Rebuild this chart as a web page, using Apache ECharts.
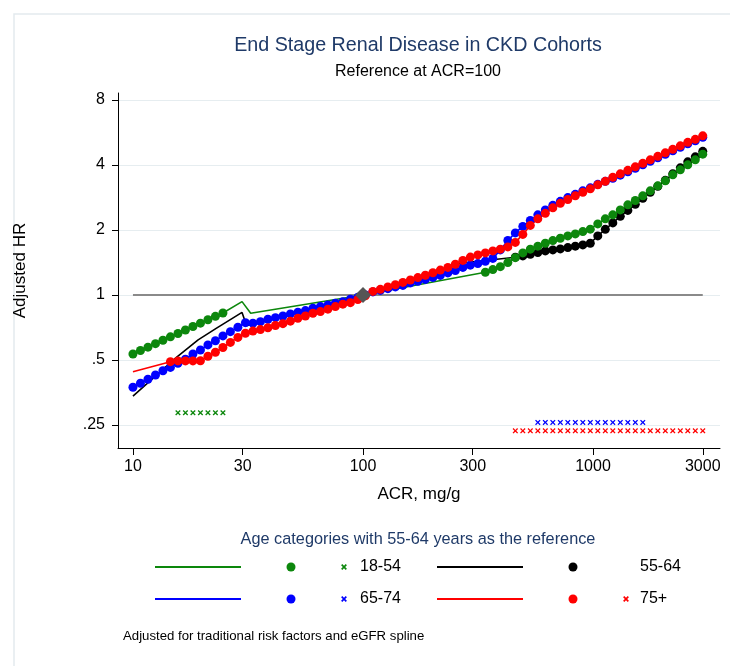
<!DOCTYPE html>
<html>
<head>
<meta charset="utf-8">
<title>End Stage Renal Disease in CKD Cohorts</title>
<script src="https://cdn.jsdelivr.net/npm/echarts@6/dist/echarts.min.js"></script>
<style>
  html, body { margin: 0; padding: 0; background: #ffffff; }
  #chart { width: 730px; height: 666px; }
</style>
</head>
<body>
<div id="chart"></div>
<script>
// ACR evaluation points (mg/g), log-spaced from 10 to 3000
const acrGrid = [
  10.00, 10.78, 11.62, 12.53, 13.50, 14.55, 15.69, 16.91, 18.23, 19.65,
  21.18, 22.83, 24.61, 26.52, 28.59, 30.83, 33.23, 35.82, 38.61, 41.62,
  44.86, 48.36, 52.13, 56.19, 60.57, 65.29, 70.38, 75.86, 81.77, 88.15,
  95.02, 102.4, 110.4, 119.0, 128.3, 138.3, 149.1, 160.7, 173.2, 186.7,
  201.3, 216.9, 233.9, 252.1, 271.8, 292.9, 315.7, 340.4, 366.9, 395.5,
  426.3, 459.5, 495.3, 533.9, 575.6, 620.4, 668.8, 720.9, 777.1, 837.7,
  903.0, 973.2, 1049, 1131, 1219, 1314, 1417, 1527, 1646, 1774,
  1913, 2062, 2222, 2396, 2582, 2784, 3000
];

// Adjusted HR by age group at each grid point (null = no marker shown)
const hr1854 = [
  0.533, 0.553, 0.573, 0.595, 0.617, 0.640, 0.663, 0.688, 0.714, 0.740,
  0.768, 0.796, 0.825, null, null, null, null, null, null, null,
  null, null, null, null, null, null, null, null, null, null,
  null, null, null, null, null, null, null, null, null, null,
  null, null, null, null, null, null, null, 1.274, 1.310, 1.352,
  1.411, 1.488, 1.565, 1.628, 1.681, 1.735, 1.784, 1.830, 1.876, 1.916,
  1.964, 2.015, 2.132, 2.249, 2.347, 2.475, 2.611, 2.734, 2.874, 3.031,
  3.197, 3.373, 3.595, 3.792, 4.000, 4.219, 4.483
];
const hr5564 = [
  null, null, null, null, null, null, null, null, null, null,
  null, null, null, null, null, null, null, null, null, null,
  null, null, null, null, null, null, null, null, null, null,
  null, null, null, null, null, null, null, null, null, null,
  null, null, null, null, null, null, null, null, null, null,
  null, 1.495, 1.516, 1.543, 1.570, 1.599, 1.616, 1.633, 1.656, 1.681,
  1.704, 1.735, 1.876, 2.011, 2.155, 2.310, 2.462, 2.625, 2.799, 2.983,
  3.180, 3.391, 3.635, 3.874, 4.130, 4.356, 4.620
];
const hr6574 = [
  0.374, 0.390, 0.407, 0.426, 0.446, 0.462, 0.483, 0.504, 0.533, 0.556,
  0.587, 0.614, 0.646, 0.676, 0.709, 0.744, 0.740, 0.752, 0.772, 0.785,
  0.799, 0.817, 0.832, 0.846, 0.868, 0.883, 0.899, 0.915, 0.931, 0.955,
  0.976, 1.000, 1.033, 1.049, 1.069, 1.089, 1.107, 1.137, 1.157, 1.180,
  1.205, 1.231, 1.264, 1.296, 1.341, 1.373, 1.396, 1.432, 1.476, 1.616,
  1.788, 1.937, 2.076, 2.213, 2.347, 2.475, 2.597, 2.711, 2.822, 2.920,
  3.031, 3.130, 3.249, 3.355, 3.463, 3.584, 3.712, 3.853, 4.000, 4.152,
  4.310, 4.474, 4.644, 4.821, 5.004, 5.167, 5.363
];
const hr75 = [
  null, null, null, null, null, 0.491, 0.495, 0.495, 0.495, 0.496,
  0.520, 0.543, 0.571, 0.603, 0.636, 0.665, 0.680, 0.691, 0.705, 0.722,
  0.736, 0.756, 0.780, 0.799, 0.823, 0.837, 0.859, 0.883, 0.906, 0.921,
  0.953, 0.990, 1.038, 1.061, 1.089, 1.115, 1.143, 1.173, 1.203, 1.234,
  1.267, 1.303, 1.341, 1.387, 1.445, 1.497, 1.532, 1.565, 1.599, 1.628,
  1.668, 1.750, 1.906, 2.098, 2.249, 2.385, 2.529, 2.653, 2.763, 2.874,
  2.983, 3.097, 3.232, 3.355, 3.501, 3.635, 3.772, 3.915, 4.065, 4.219,
  4.379, 4.546, 4.719, 4.898, 5.084, 5.250, 5.449
];

// Extra curve vertices [ACR, HR] where the spline is drawn without markers
const path1854 = [[29.8, 0.931], [32.5, 0.823], [100, 1.0]];
const path5564 = [[10, 0.340], [15.5, 0.515], [19.2, 0.619], [23.0, 0.700], [29.8, 0.830], [31.2, 0.720], [100, 1.0], [264, 1.402]];
const path6574 = [];
const path75 = [[10, 0.441]];

// Grid points where the group differs from the 55-64 reference, and the row height of that strip
const diff1854 = [6, 7, 8, 9, 10, 11, 12];
const diff6574 = [54, 55, 56, 57, 58, 59, 60, 61, 62, 63, 64, 65, 66, 67, 68];
const diff75 = [51, 52, 53, 54, 55, 56, 57, 58, 59, 60, 61, 62, 63, 64, 65, 66, 67, 68, 69, 70, 71, 72, 73, 74, 75, 76];
const diffRow1854 = 0.285;
const diffRow6574 = 0.257;
const diffRow75 = 0.235;

// Reference point and reference line
const refAcr = 100;
const refHr = 1;
const refLineAcr = [10, 3000];

// Axis ticks
const xTicks = [10, 30, 100, 300, 1000, 3000];
const yTicks = [0.25, 0.5, 1, 2, 4, 8];
const yTickText = ['.25', '.5', '1', '2', '4', '8'];

const FONT = '"Liberation Sans", Arial, Helvetica, sans-serif';
const NAVY = '#1f3a68';
const GREEN = '#0c870c';
const BLUE = '#0000ff';
const RED = '#ff0000';
const BLACK = '#000000';
const CROSS = 'path://M0,1L1,0L3,2L5,0L6,1L4,3L6,5L5,6L3,4L1,6L0,5L2,3Z';

function dotPairs(values) {
  const out = [];
  values.forEach((v, i) => { if (v != null) out.push([acrGrid[i], v]); });
  return out;
}
function curve(values, extra) {
  return dotPairs(values).concat(extra).sort((a, b) => a[0] - b[0]);
}
function strip(idx, level) {
  return idx.map(i => [acrGrid[i], level]);
}

const groups = [
  { name: '18-54', color: GREEN, hr: hr1854, path: path1854, diff: diff1854, row: diffRow1854 },
  { name: '55-64', color: BLACK, hr: hr5564, path: path5564, diff: null, row: null },
  { name: '65-74', color: BLUE, hr: hr6574, path: path6574, diff: diff6574, row: diffRow6574 },
  { name: '75+', color: RED, hr: hr75, path: path75, diff: diff75, row: diffRow75 }
];

const series = [];
series.push({
  type: 'line', name: 'ref', data: refLineAcr.map(a => [a, refHr]),
  symbol: 'none', lineStyle: { color: '#8a8a8a', width: 2 }, silent: true, z: 1
});
groups.forEach(g => {
  series.push({
    type: 'line', name: g.name + ' spline', data: curve(g.hr, g.path),
    symbol: 'none', lineStyle: { color: g.color, width: 1.6 }, z: 2
  });
});
// marker layering: black under green, blue under red
[1, 0, 2, 3].forEach(k => {
  const g = groups[k];
  series.push({
    type: 'scatter', name: g.name + ' est', data: dotPairs(g.hr),
    symbol: 'circle', symbolSize: 9, itemStyle: { color: g.color, opacity: 1 }, z: 3
  });
});
groups.forEach(g => {
  if (!g.diff) return;
  series.push({
    type: 'scatter', name: g.name + ' diff', data: strip(g.diff, g.row),
    symbol: CROSS, symbolSize: 5.5, itemStyle: { color: g.color, opacity: 1 }, z: 3
  });
});
series.push({
  type: 'scatter', name: 'reference', data: [[refAcr, refHr]],
  symbol: 'diamond', symbolSize: 16, itemStyle: { color: '#555555', opacity: 1 }, z: 4
});

// Legend drawn as keys: line, circle, cross, label
const legendRows = [567, 599];
function legendKey(y, lineX, dotX, crossX, textX, color, label) {
  const els = [
    { type: 'line', shape: { x1: lineX, y1: y, x2: lineX + 86, y2: y }, style: { stroke: color, lineWidth: 2 } },
    { type: 'circle', shape: { cx: dotX, cy: y, r: 4.5 }, style: { fill: color } }
  ];
  if (crossX != null) {
    els.push({ type: 'line', shape: { x1: crossX - 2.3, y1: y - 2.3, x2: crossX + 2.3, y2: y + 2.3 }, style: { stroke: color, lineWidth: 1.7 } });
    els.push({ type: 'line', shape: { x1: crossX - 2.3, y1: y + 2.3, x2: crossX + 2.3, y2: y - 2.3 }, style: { stroke: color, lineWidth: 1.7 } });
  }
  els.push({ type: 'text', style: { text: label, x: textX, y: y, textVerticalAlign: 'middle', textAlign: 'left', font: '16px ' + FONT, fill: '#000' } });
  return els;
}

const graphic = [].concat(
  [
    { type: 'rect', shape: { x: 14, y: 14, width: 740, height: 690 }, style: { fill: 'none', stroke: '#e3eaee', lineWidth: 1.5 }, silent: true, z: -10 },
    { type: 'text', style: { text: 'End Stage Renal Disease in CKD Cohorts', x: 418, y: 46, textAlign: 'center', textVerticalAlign: 'middle', font: '19.7px ' + FONT, fill: NAVY } },
    { type: 'text', style: { text: 'Reference at ACR=100', x: 418, y: 72, textAlign: 'center', textVerticalAlign: 'middle', font: '16px ' + FONT, fill: '#000' } },
    { type: 'text', style: { text: 'Age categories with 55-64 years as the reference', x: 418, y: 540, textAlign: 'center', textVerticalAlign: 'middle', font: '16.3px ' + FONT, fill: NAVY } },
    { type: 'text', style: { text: 'Adjusted for traditional risk factors and eGFR spline', x: 123, y: 636, textAlign: 'left', textVerticalAlign: 'middle', font: '13.2px ' + FONT, fill: '#000' } }
  ],
  legendKey(legendRows[0], 155, 291, 344, 360, GREEN, '18-54'),
  legendKey(legendRows[0], 437, 573, null, 640, BLACK, '55-64'),
  legendKey(legendRows[1], 155, 291, 344, 360, BLUE, '65-74'),
  legendKey(legendRows[1], 437, 573, 626, 640, RED, '75+')
);

const chart = echarts.init(document.getElementById('chart'), null, { renderer: 'canvas' });
chart.setOption({
  animation: false,
  backgroundColor: '#ffffff',
  textStyle: { fontFamily: FONT },
  grid: { left: 118, right: 10, top: 93, bottom: 218, containLabel: false, outerBoundsMode: 'none' },
  xAxis: {
    type: 'log', logBase: 10, min: 8.61, max: 3565,
    name: 'ACR, mg/g', nameLocation: 'middle', nameGap: 38,
    nameTextStyle: { fontSize: 17, color: '#000', fontFamily: FONT },
    axisLine: { show: true, lineStyle: { color: '#000', width: 1 } },
    axisTick: { show: true, length: 7, customValues: xTicks, lineStyle: { color: '#000' } },
    axisLabel: { customValues: xTicks, margin: 11, fontSize: 16, color: '#000', fontFamily: FONT,
      formatter: v => String(Math.round(v)) },
    splitLine: { show: false }, minorTick: { show: false }
  },
  yAxis: {
    type: 'log', logBase: 2, min: 0.1957, max: 8.6,
    name: 'Adjusted HR', nameLocation: 'middle', nameGap: 89, nameRotate: 90,
    nameTextStyle: { fontSize: 17, color: '#000', fontFamily: FONT },
    axisLine: { show: true, lineStyle: { color: '#000', width: 1 } },
    axisTick: { show: true, length: 6, customValues: yTicks, lineStyle: { color: '#000' } },
    axisLabel: { customValues: yTicks, margin: 13, fontSize: 16, color: '#000', fontFamily: FONT,
      formatter: v => {
        const k = yTicks.findIndex(t => Math.abs(t - v) / t < 1e-6);
        return k >= 0 ? yTickText[k] : '';
      } },
    splitLine: { show: true, lineStyle: { color: '#e6edf0', width: 1 } }
  },
  series: series,
  graphic: graphic
});
</script>
</body>
</html>
